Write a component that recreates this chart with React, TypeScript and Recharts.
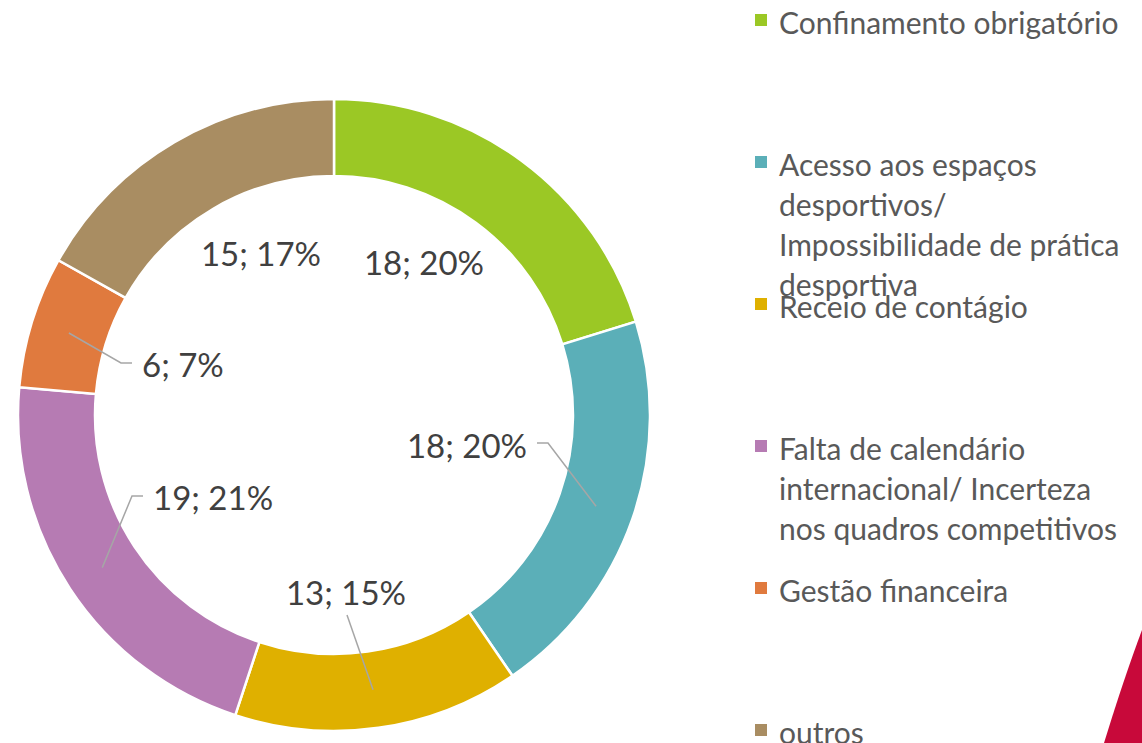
import { PieChart, Pie, Cell } from 'recharts';

const categories = [
  'Confinamento obrigatório',
  'Acesso aos espaços desportivos/ Impossibilidade de prática desportiva',
  'Receio de contágio',
  'Falta de calendário internacional/ Incerteza nos quadros competitivos',
  'Gestão financeira',
  'outros',
];
const counts = [18, 18, 13, 19, 6, 15];

const COLORS = ['#9BC825', '#5BAFB8', '#DFB000', '#B67BB3', '#E07A3E', '#A98D62'];

// manual label placement (relative to pie centre), like the moved labels in the original
const LABEL_LAYOUT = [
  { dx: 90, dy: -153, anchor: 'middle', leader: 'none' },
  { dx: 193, dy: 30, anchor: 'end', leader: 'right' },
  { dx: 12, dy: 177, anchor: 'middle', leader: 'bottom' },
  { dx: -181, dy: 82, anchor: 'start', leader: 'left' },
  { dx: -192, dy: -51, anchor: 'start', leader: 'left' },
  { dx: -73, dy: -162, anchor: 'middle', leader: 'none' },
];

const data = categories.map((name, i) => ({ name, value: counts[i] }));
const RAD = Math.PI / 180;

function renderLabel(props: any) {
  const { cx, cy, midAngle, innerRadius, outerRadius, index, value, percent } = props;
  const lay = LABEL_LAYOUT[index];
  const tx = cx + lay.dx;
  const ty = cy + lay.dy;
  const r = (innerRadius + outerRadius) / 2;
  const px = cx + r * Math.cos(-midAngle * RAD);
  const py = cy + r * Math.sin(-midAngle * RAD);
  let line = null;
  if (lay.leader === 'right') {
    line = <polyline points={`${tx + 10},${ty - 2} ${tx + 21},${ty - 2} ${px},${py}`} fill="none" stroke="#A6A6A6" strokeWidth={1.5} />;
  } else if (lay.leader === 'left') {
    line = <polyline points={`${tx - 10},${ty - 1} ${tx - 21},${ty - 1} ${px},${py}`} fill="none" stroke="#A6A6A6" strokeWidth={1.5} />;
  } else if (lay.leader === 'bottom') {
    line = <polyline points={`${tx + 1},${ty + 23} ${px},${py}`} fill="none" stroke="#A6A6A6" strokeWidth={1.5} />;
  }
  return (
    <g key={`lbl-${index}`}>
      {line}
      <text
        x={tx}
        y={ty}
        textAnchor={lay.anchor}
        dominantBaseline="central"
        fill="#404040"
        fontSize={33}
        fontFamily="Lato, sans-serif"
      >
        {`${value}; ${Math.round(percent * 100)}%`}
      </text>
    </g>
  );
}

function ChartLegend() {
  return (
    <div
      style={{
        position: 'absolute',
        left: 755,
        top: 2,
        fontFamily: 'Lato, sans-serif',
        fontSize: 30,
        color: '#595959',
      }}
    >
      {categories.map((name, i) => (
        <div
          key={name}
          style={{ position: 'absolute', top: i * 142, left: 0, display: 'flex', alignItems: 'flex-start' }}
        >
          <div style={{ width: 12, height: 12, background: COLORS[i], marginTop: 12, marginRight: 12, flexShrink: 0 }} />
          <div style={{ width: 354, lineHeight: '40px', whiteSpace: 'normal' }}>{name}</div>
        </div>
      ))}
    </div>
  );
}

export default function App() {
  return (
    <div style={{ position: 'absolute', left: 0, top: 0, width: 1142, height: 743, background: '#fff', overflow: 'hidden' }}>
      <PieChart width={1142} height={743} margin={{ top: 0, right: 0, bottom: 0, left: 0 }}>
        <Pie
          data={data}
          dataKey="value"
          nameKey="name"
          cx={334}
          cy={415}
          innerRadius={239}
          outerRadius={316}
          startAngle={90}
          endAngle={-270}
          stroke="#fff"
          strokeWidth={2.5}
          label={renderLabel}
          labelLine={false}
          isAnimationActive={false}
        >
          {data.map((d, i) => (
            <Cell key={d.name} fill={COLORS[i]} />
          ))}
        </Pie>
      </PieChart>
      <ChartLegend />
      <svg width={1142} height={743} style={{ position: 'absolute', left: 0, top: 0, pointerEvents: 'none' }}>
        <path d="M1142,630 Q1124,678 1104,743 L1142,743 Z" fill="#C8093A" />
      </svg>
    </div>
  );
}
